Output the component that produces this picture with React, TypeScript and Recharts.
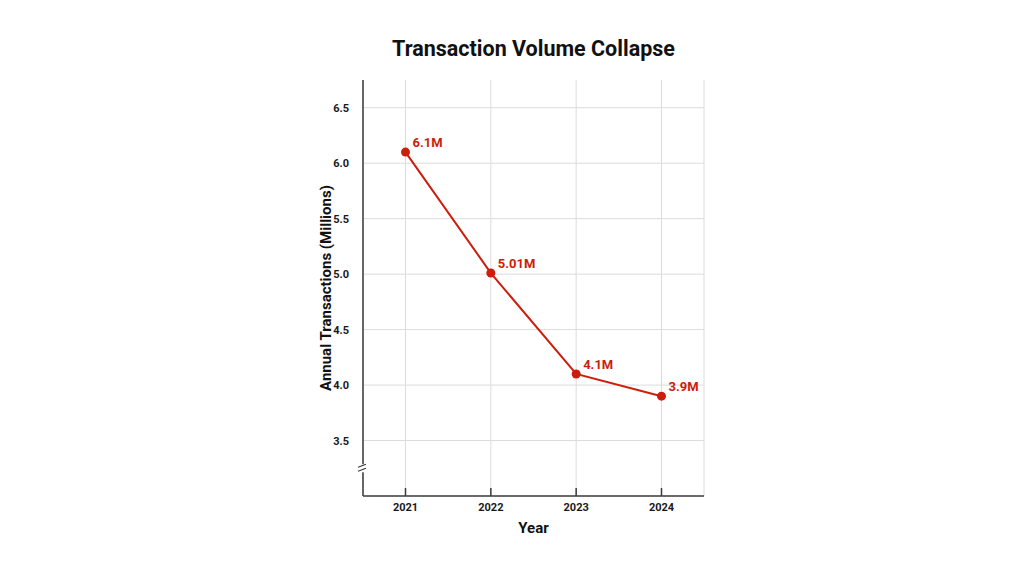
import { CartesianGrid, LabelList, Line, LineChart, XAxis, YAxis } from "recharts";

const YEARS = ["2021", "2022", "2023", "2024"];
const VOLUMES = [6.1, 5.01, 4.1, 3.9];
const VOLUME_LABELS = ["6.1M", "5.01M", "4.1M", "3.9M"];
const Y_TICKS = [3.5, 4.0, 4.5, 5.0, 5.5, 6.0, 6.5];
const BREAK_AT = 3.25;

const RED = "#cc1d0d";
const AXIS = "#3a3a3a";
const FONT = "Roboto, 'Noto Sans', sans-serif";

const data = YEARS.map((year, i) => ({
  year,
  volume: VOLUMES[i],
  label: VOLUME_LABELS[i],
}));

function XTick({ x, y, payload }: any) {
  return (
    <g>
      <line x1={x} x2={x} y1={y} y2={y - 8} stroke={AXIS} strokeWidth={1.5} />
      <text
        x={x}
        y={y + 15}
        textAnchor="middle"
        fontSize={11}
        fontWeight={700}
        fill="#1a1a1a"
        fontFamily={FONT}
      >
        {payload.value}
      </text>
    </g>
  );
}

function YTick({ x, y, payload }: any) {
  const axisX = x + 14;
  if (payload.value === BREAK_AT) {
    return (
      <g>
        <rect x={axisX - 3} y={y - 4} width={6} height={8} fill="#fff" />
        <line x1={axisX - 5} y1={y - 1} x2={axisX + 3} y2={y - 4} stroke={AXIS} strokeWidth={1.2} />
        <line x1={axisX - 5} y1={y + 3} x2={axisX + 3} y2={y} stroke={AXIS} strokeWidth={1.2} />
      </g>
    );
  }
  return (
    <text
      x={x}
      y={y + 4}
      textAnchor="end"
      fontSize={11}
      fontWeight={700}
      fill="#1a1a1a"
      fontFamily={FONT}
    >
      {payload.value.toFixed(1)}
    </text>
  );
}

function PointLabel({ x, y, value }: any) {
  return (
    <text
      x={x + 7}
      y={y - 5}
      fontSize={13}
      fontWeight={700}
      fill={RED}
      fontFamily={FONT}
    >
      {value}
    </text>
  );
}

function YLabel({ viewBox }: any) {
  const cx = viewBox.x + 13;
  const cy = viewBox.y + viewBox.height / 2;
  return (
    <text
      x={cx}
      y={cy}
      transform={`rotate(-90 ${cx} ${cy})`}
      textAnchor="middle"
      dominantBaseline="central"
      fontSize={15}
      fontWeight={700}
      fill="#111"
      fontFamily={FONT}
    >
      Annual Transactions (Millions)
    </text>
  );
}

export default function App() {
  return (
    <div
      style={{
        position: "absolute",
        left: 0,
        top: 0,
        width: 1024,
        height: 576,
        background: "#fff",
        fontFamily: FONT,
      }}
    >
      <div
        style={{
          position: "absolute",
          left: 363,
          width: 341,
          top: 36,
          textAlign: "center",
          fontSize: 21.5,
          fontWeight: 700,
          color: "#111",
        }}
      >
        Transaction Volume Collapse
      </div>
      <LineChart
        width={1024}
        height={576}
        data={data}
        margin={{ top: 80, right: 320, bottom: 40, left: 313 }}
      >
        <CartesianGrid stroke="#dcdcdc" horizontalValues={Y_TICKS} />
        <XAxis
          dataKey="year"
          height={40}
          padding={{ left: 42.5, right: 42.5 }}
          stroke={AXIS}
          strokeWidth={1.5}
          tickLine={false}
          tickSize={0}
          tickMargin={0}
          tick={<XTick />}
          label={{
            value: "Year",
            position: "insideBottom",
            offset: 0,
            dy: -3,
            fontSize: 15,
            fontWeight: 700,
            fill: "#111",
            fontFamily: FONT,
          }}
        />
        <YAxis
          width={50}
          domain={[3.0, 6.75]}
          ticks={[BREAK_AT, ...Y_TICKS]}
          interval={0}
          stroke={AXIS}
          strokeWidth={1.5}
          tickLine={false}
          tickSize={0}
          tickMargin={14}
          tick={<YTick />}
          label={<YLabel />}
        />
        <Line
          dataKey="volume"
          stroke={RED}
          strokeWidth={2}
          dot={{ r: 4.5, fill: RED, stroke: RED, strokeWidth: 0 }}
          activeDot={false}
          isAnimationActive={false}
        >
          <LabelList dataKey="label" content={<PointLabel />} />
        </Line>
      </LineChart>
    </div>
  );
}
